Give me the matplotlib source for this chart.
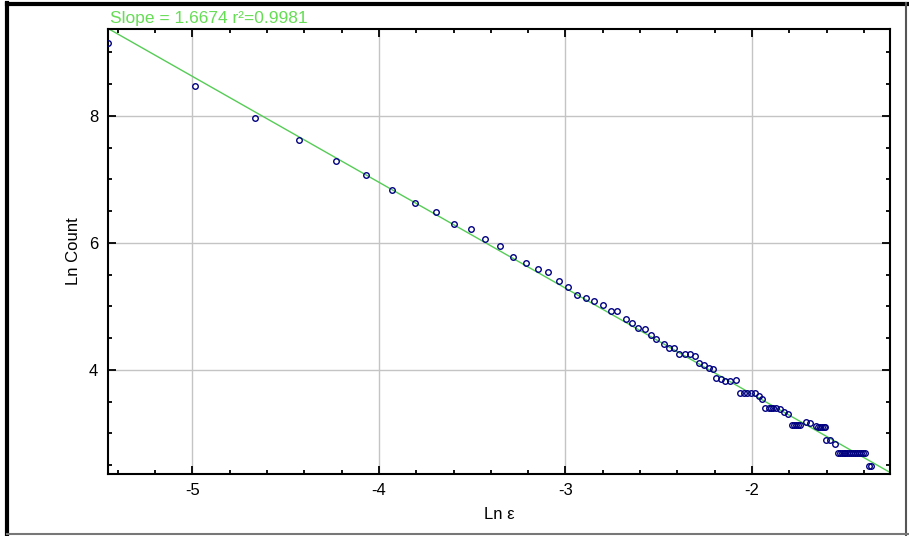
import numpy as np
import matplotlib
matplotlib.use("Agg")
import matplotlib.pyplot as plt
from matplotlib.lines import Line2D
from matplotlib.ticker import MultipleLocator

plt.rcParams['font.family'] = ['Liberation Sans', 'DejaVu Sans']
plt.rcParams['axes.unicode_minus'] = False

# box-counting data
ln_eps = [-5.451, -4.985, -4.663, -4.427, -4.229, -4.068, -3.929, -3.809, -3.696, -3.598, -3.508,
          -3.430, -3.353, -3.281, -3.212, -3.147, -3.092, -3.035, -2.987, -2.938, -2.889, -2.848, -2.801,
          -2.756, -2.722, -2.677, -2.643, -2.611, -2.572, -2.540, -2.513, -2.474, -2.447, -2.418, -2.390,
          -2.361, -2.334, -2.307,
          -2.284, -2.257, -2.232, -2.209, -2.191, -2.168, -2.143, -2.116, -2.087,
          -2.066, -2.045, -2.025, -2.003, -1.986, -1.962, -1.944,
          -1.932, -1.910, -1.898, -1.887, -1.869, -1.851, -1.830, -1.805,
          -1.786, -1.774, -1.762, -1.751, -1.740, -1.708, -1.687, -1.658,
          -1.644, -1.635, -1.625, -1.615, -1.606, -1.601, -1.580, -1.555,
          -1.539, -1.529, -1.519, -1.509, -1.499, -1.489, -1.479, -1.468,
          -1.457, -1.447, -1.437, -1.427, -1.417, -1.406, -1.396,
          -1.372, -1.360]
ln_count = [9.154, 8.472, 7.973, 7.622, 7.291, 7.066, 6.839, 6.635, 6.488, 6.304, 6.215,
            6.058, 5.953, 5.784, 5.685, 5.595, 5.543, 5.397, 5.312, 5.186, 5.129, 5.091, 5.029,
            4.924, 4.929, 4.803, 4.735, 4.657, 4.641, 4.556, 4.493, 4.409, 4.342, 4.342, 4.247,
            4.247, 4.247, 4.225,
            4.117, 4.074, 4.038, 4.022, 3.880, 3.854, 3.822, 3.827, 3.843,
            3.633, 3.633, 3.633, 3.633, 3.633, 3.591, 3.549,
            3.408, 3.408, 3.408, 3.408, 3.408, 3.381, 3.339, 3.302,
            3.134, 3.134, 3.134, 3.134, 3.134, 3.187, 3.172, 3.118,
            3.102, 3.102, 3.102, 3.102, 3.102, 2.898, 2.898, 2.830,
            2.699, 2.699, 2.699, 2.699, 2.699, 2.699, 2.699, 2.699,
            2.699, 2.699, 2.699, 2.699, 2.699, 2.699, 2.699,
            2.490, 2.490]
slope = 1.6674
r2 = 0.9981

x = np.array(ln_eps)
y = np.array(ln_count)
intercept = np.mean(y + slope * x)

fig = plt.figure(figsize=(9.09, 5.36), dpi=100)
ax = fig.add_axes([0.1188, 0.1166, 0.8603, 0.8293])

xlim = (-5.453, -1.26)
ylim = (2.37, 9.37)
ax.set_xlim(xlim)
ax.set_ylim(ylim)

ax.grid(True, color='#c4c4c4', linewidth=1.0, zorder=0)
xl = np.array(xlim)
ax.plot(xl, intercept - slope * xl, color='#55cc55', linewidth=1.0, zorder=2)
ax.plot(x, y, linestyle='none', marker='o', markersize=4, markeredgewidth=1.0,
        markeredgecolor='#000080', markerfacecolor='none', zorder=3)

ax.xaxis.set_major_locator(MultipleLocator(1))
ax.xaxis.set_minor_locator(MultipleLocator(0.2))
ax.yaxis.set_major_locator(MultipleLocator(2))
ax.yaxis.set_minor_locator(MultipleLocator(0.5))
ax.tick_params(which='both', direction='in', top=True, right=True, width=1.3, color='black')
ax.tick_params(which='major', length=6, labelsize=12, pad=7)
ax.tick_params(which='minor', length=3)
for s in ax.spines.values():
    s.set_linewidth(1.5)

ax.set_xlabel('Ln ε', fontsize=12, labelpad=6)
ax.set_ylabel('Ln Count', fontsize=12, labelpad=6)

fig.text(110 / 909, 1 - 23.5 / 536, 'Slope = %.4f r²=%.4f' % (slope, r2),
         color='#66dd55', fontsize=12.5, ha='left', va='baseline')

# outer frame around the picture
fig.add_artist(Line2D([0.0075, 0.0075], [0, 0.994], transform=fig.transFigure, color='black', linewidth=3))
fig.add_artist(Line2D([0.0075, 1], [0.992, 0.992], transform=fig.transFigure, color='black', linewidth=3))
fig.add_artist(Line2D([0.997, 0.997], [0, 0.994], transform=fig.transFigure, color='#555555', linewidth=1.5))
fig.add_artist(Line2D([0.0075, 1], [0.004, 0.004], transform=fig.transFigure, color='#777777', linewidth=1.5))

fig.savefig('out.png', dpi=100)
